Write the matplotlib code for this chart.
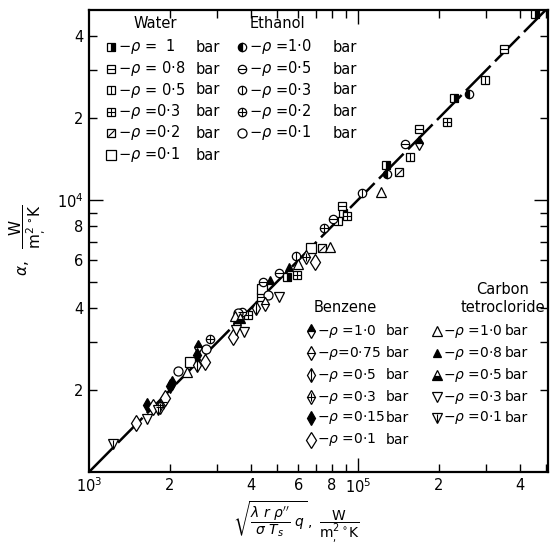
import matplotlib
matplotlib.use("Agg")
import matplotlib.pyplot as plt
from matplotlib.path import Path
from matplotlib.ticker import FixedLocator, FixedFormatter

# ---- data ----
# water
w10_x = [4.55e5, 2.28e5, 1.27e5, 8.8e4, 5.45e4]
w10_y = [4.83e4, 2.37e4, 1.35e4, 8.95e3, 5.21e3]
w08_x = [3.49e5, 1.69e5, 8.73e4, 4.35e4]
w08_y = [3.59e4, 1.82e4, 9.5e3, 4.4e3]
w05_x = [2.97e5, 1.57e5, 8.43e4]
w05_y = [2.76e4, 1.44e4, 8.37e3]
w03_x = [2.14e5, 9.1e4, 5.93e4, 3.9e4]
w03_y = [1.94e4, 8.73e3, 5.3e3, 3.78e3]
w02_x = [1.42e5, 7.35e4]
w02_y = [1.27e4, 6.66e3]
w01_x = [6.68e4, 4.4e4, 2.37e4]
w01_y = [6.66e3, 4.71e3, 2.54e3]
# ethanol
e10_x = [2.59e5, 1.28e5]
e10_y = [2.45e4, 1.25e4]
e05_x = [1.5e5, 8.07e4, 5.08e4, 4.44e4, 3.71e4]
e05_y = [1.61e4, 8.5e3, 5.4e3, 5.0e3, 3.87e3]
e03_x = [1.04e5, 5.89e4]
e03_y = [1.06e4, 6.22e3]
e02_x = [7.48e4, 2.82e4]
e02_y = [7.89e3, 3.08e3]
e01_x = [4.62e4, 2.72e4, 2.14e4, 3.58e4]
e01_y = [4.48e3, 2.83e3, 2.35e3, 3.85e3]
# benzene
b10_x = [1.69e5, 2.54e4, 3.55e4]
b10_y = [1.62e4, 2.88e3, 3.53e3]
b075_x = [4.51e4, 1.88e4]
b075_y = [4.15e3, 1.81e3]
b05_x = [4.18e4, 2.52e4]
b05_y = [4.01e3, 2.47e3]
b03_x = [6.41e4, 1.84e4]
b03_y = [6.17e3, 1.73e3]
b015_x = [2.04e4, 1.64e4, 2.52e4, 2.0e4]
b015_y = [2.12e3, 1.76e3, 2.69e3, 2.08e3]
b01_x = [6.92e4, 2.7e4, 3.43e4, 1.92e4, 1.73e4, 1.5e4]
b01_y = [5.92e3, 2.54e3, 3.13e3, 1.87e3, 1.73e3, 1.51e3]
# carbon tetrachloride
c10_x = [1.22e5, 7.87e4, 5.98e4, 3.49e4, 2.31e4]
c10_y = [1.07e4, 6.71e3, 5.82e3, 3.75e3, 2.33e3]
c08_x = [4.71e4, 5.53e4]
c08_y = [5.08e3, 5.68e3]
c05_x = [3.64e4]
c05_y = [3.68e3]
c03_x = [5.08e4, 3.77e4, 1.64e4, 3.52e4]
c03_y = [4.4e3, 3.27e3, 1.57e3, 3.33e3]
c01_x = [1.23e4, 1.81e4]
c01_y = [1.27e3, 1.69e3]

line_x = [1e4, 5e5]
line_y = [1e3, 5e4]

diag = Path([(-1, -1), (1, 1)], [Path.MOVETO, Path.LINETO])

# marker styles: base, size, fillstyle, face, inner, inner size
styles = {
    "w10": ("s", 6, "right", "black", None, 0),
    "w08": ("s", 6, "full", "white", "_", 6),
    "w05": ("s", 6, "full", "white", "|", 6),
    "w03": ("s", 6, "full", "white", "+", 6),
    "w02": ("s", 6, "full", "white", diag, 4.5),
    "w01": ("s", 6.5, "full", "white", None, 0),
    "e10": ("o", 6, "left", "black", None, 0),
    "e05": ("o", 6, "full", "white", "_", 6),
    "e03": ("o", 6, "full", "white", "|", 6),
    "e02": ("o", 6, "full", "white", "+", 6),
    "e01": ("o", 6.5, "full", "white", None, 0),
    "b10": ("d", 7, "top", "black", None, 0),
    "b075": ("d", 7, "full", "white", "_", 6),
    "b05": ("d", 7, "full", "white", "|", 9),
    "b03": ("d", 7, "full", "white", "+", 6),
    "b015": ("d", 7, "full", "black", None, 0),
    "b01": ("d", 8.5, "full", "white", None, 0),
    "c10": ("^", 7, "full", "white", None, 0),
    "c08": ("^", 5.5, "full", "black", None, 0),
    "c05": ("^", 7, "bottom", "black", None, 0),
    "c03": ("v", 7, "full", "white", None, 0),
    "c01": ("v", 7, "full", "white", "|", 6),
}

series = [
    (w10_x, w10_y, "w10"), (w08_x, w08_y, "w08"), (w05_x, w05_y, "w05"),
    (w03_x, w03_y, "w03"), (w02_x, w02_y, "w02"), (w01_x, w01_y, "w01"),
    (e10_x, e10_y, "e10"), (e05_x, e05_y, "e05"), (e03_x, e03_y, "e03"),
    (e02_x, e02_y, "e02"), (e01_x, e01_y, "e01"),
    (b10_x, b10_y, "b10"), (b075_x, b075_y, "b075"), (b05_x, b05_y, "b05"),
    (b03_x, b03_y, "b03"), (b015_x, b015_y, "b015"), (b01_x, b01_y, "b01"),
    (c10_x, c10_y, "c10"), (c08_x, c08_y, "c08"), (c05_x, c05_y, "c05"),
    (c03_x, c03_y, "c03"), (c01_x, c01_y, "c01"),
]


def mark(ax, x, y, key, **kw):
    m, ms, fs, fc, inner, ims = styles[key]
    ax.plot(x, y, ls="none", marker=m, ms=ms, fillstyle=fs, mfc=fc,
            mfcalt="white", mec="black", mew=0.9, zorder=3, **kw)
    if inner is not None:
        ax.plot(x, y, ls="none", marker=inner, ms=ims, mec="black",
                mew=0.8, zorder=4, **kw)


fig = plt.figure(figsize=(5.51, 5.44), dpi=100)
ax = fig.add_axes([89 / 551, 1 - 472 / 544, 459 / 551, 462 / 544])
ax.set_xscale("log")
ax.set_yscale("log")

ax.plot(line_x, line_y, color="black", lw=1.8, dashes=(14, 2.5), zorder=2)
for xs, ys, key in series:
    mark(ax, xs, ys, key)

ax.set_xlim(1e4, 5.1e5)
ax.set_ylim(1e3, 5e4)

# ticks
ax.xaxis.set_major_locator(FixedLocator([1e5]))
ax.xaxis.set_major_formatter(FixedFormatter(["$10^5$"]))
xm = [2e4, 3e4, 4e4, 5e4, 6e4, 7e4, 8e4, 9e4, 2e5, 3e5, 4e5, 5e5]
xml = ["2", "", "4", "", "6", "", "8", "", "2", "", "4", ""]
ax.xaxis.set_minor_locator(FixedLocator(xm))
ax.xaxis.set_minor_formatter(FixedFormatter(xml))
ax.yaxis.set_major_locator(FixedLocator([1e4]))
ax.yaxis.set_major_formatter(FixedFormatter(["$10^4$"]))
ym = [2e3, 3e3, 4e3, 5e3, 6e3, 7e3, 8e3, 9e3, 2e4, 3e4, 4e4]
yml = ["2", "", "4", "", "6", "", "8", "", "2", "", "4"]
ax.yaxis.set_minor_locator(FixedLocator(ym))
ax.yaxis.set_minor_formatter(FixedFormatter(yml))
ax.tick_params(which="both", direction="in", top=True, right=True,
               labelsize=10.5, width=1)
ax.tick_params(which="major", length=10, pad=4)
ax.tick_params(which="minor", length=6, pad=4)
for s in ax.spines.values():
    s.set_linewidth(1.6)

# origin label
ax.text(0, -0.01, "$10^3$", transform=ax.transAxes, ha="center", va="top",
        fontsize=10.5)

# axis titles
fig.text(296 / 551, 1 - 522 / 544,
         r"$\sqrt{\dfrac{\lambda\ r\ \rho^{\prime\prime}}{\sigma\ T_s}\ q}\,,\ "
         r"\dfrac{\mathrm{W}}{\mathrm{m^2_{,}\,{}^{\circ}K}}$",
         ha="center", va="center", fontsize=10)
fig.text(28 / 551, 1 - 240 / 544,
         r"$\alpha,\ \ \dfrac{\mathrm{W}}{\mathrm{m^2_{,}\,{}^{\circ}K}}$",
         rotation=90, ha="center", va="center", fontsize=11)

# ---- in-plot key ----
def fx(px):
    return px / 551


def fy(py):
    return 1 - py / 544


T = fig.transFigure
KS = 10
fig.text(fx(155), fy(23), "Water", ha="center", va="center", fontsize=10.5)
fig.text(fx(277), fy(23), "Ethanol", ha="center", va="center", fontsize=10.5)

water_keys = ["w10", "w08", "w05", "w03", "w02", "w01"]
water_txt = [r"$-\rho$ =  1", r"$-\rho$ = 0·8", r"$-\rho$ = 0·5",
             r"$-\rho$ =0·3", r"$-\rho$ =0·2", r"$-\rho$ =0·1"]
eth_keys = ["e10", "e05", "e03", "e02", "e01"]
eth_txt = [r"$-\rho$ =1·0", r"$-\rho$ =0·5", r"$-\rho$ =0·3",
           r"$-\rho$ =0·2", r"$-\rho$ =0·1"]
rows_top = [47, 69, 90, 112, 133, 155]
for i, (k, t) in enumerate(zip(water_keys, water_txt)):
    mark(ax, [fx(111)], [fy(rows_top[i])], k, transform=T, clip_on=False)
    fig.text(fx(118), fy(rows_top[i]), t, va="center", fontsize=10.5)
    fig.text(fx(196), fy(rows_top[i]), "bar", va="center", fontsize=10.5)
for i, (k, t) in enumerate(zip(eth_keys, eth_txt)):
    mark(ax, [fx(242)], [fy(rows_top[i])], k, transform=T, clip_on=False)
    fig.text(fx(249), fy(rows_top[i]), t, va="center", fontsize=10.5)
    fig.text(fx(333), fy(rows_top[i]), "bar", va="center", fontsize=10.5)

fig.text(fx(345), fy(308), "Benzene", ha="center", va="center", fontsize=10.5)
fig.text(fx(503), fy(289), "Carbon", ha="center", va="center", fontsize=10.5)
fig.text(fx(503), fy(307), "tetrocloride", ha="center", va="center",
         fontsize=10.5)

benz_keys = ["b10", "b075", "b05", "b03", "b015", "b01"]
benz_txt = [r"$-\rho$ =1·0", r"$-\rho$=0·75", r"$-\rho$ =0·5",
            r"$-\rho$ =0·3", r"$-\rho$ =0·15", r"$-\rho$ =0·1"]
ccl_keys = ["c10", "c08", "c05", "c03", "c01"]
ccl_txt = [r"$-\rho$ =1·0", r"$-\rho$ =0·8", r"$-\rho$ =0·5",
           r"$-\rho$ =0·3", r"$-\rho$ =0·1"]
rows_bot = [331, 353, 375, 397, 418, 440]
for i, (k, t) in enumerate(zip(benz_keys, benz_txt)):
    mark(ax, [fx(311)], [fy(rows_bot[i])], k, transform=T, clip_on=False)
    fig.text(fx(317), fy(rows_bot[i]), t, va="center", fontsize=KS)
    fig.text(fx(386), fy(rows_bot[i]), "bar", va="center", fontsize=KS)
for i, (k, t) in enumerate(zip(ccl_keys, ccl_txt)):
    mark(ax, [fx(437)], [fy(rows_bot[i])], k, transform=T, clip_on=False)
    fig.text(fx(443), fy(rows_bot[i]), t, va="center", fontsize=KS)
    fig.text(fx(505), fy(rows_bot[i]), "bar", va="center", fontsize=KS)

fig.savefig("out.png", dpi=100)
